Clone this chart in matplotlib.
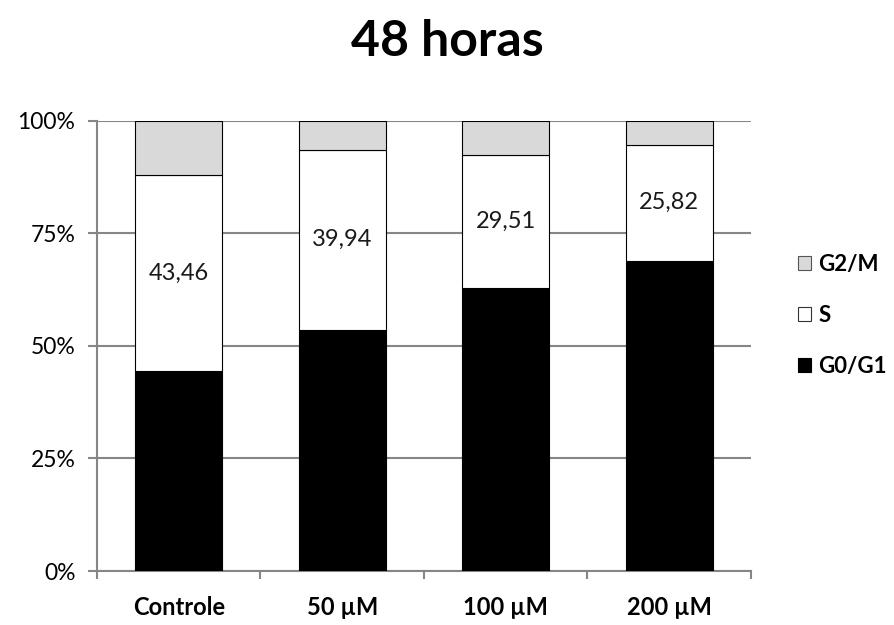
import numpy as np
import matplotlib
matplotlib.use("Agg")
import matplotlib.pyplot as plt
from matplotlib.patches import Patch

# cell cycle phase fractions (%) after 48 h
categorias = ["Controle", "50 µM", "100 µM", "200 µM"]
g0_g1 = [44.42, 53.60, 62.80, 68.85]
fase_s = [43.46, 39.94, 29.51, 25.82]
g2_m = [12.12, 6.46, 7.69, 5.33]
rotulos_s = ["43,46", "39,94", "29,51", "25,82"]

plt.rcParams["font.family"] = ["Lato", "DejaVu Sans"]

grid_cor = "#868686"

fig = plt.figure(figsize=(8.94, 6.25), dpi=100)
ax = fig.add_axes([0.1085, 0.0864, 0.7315, 0.7205])

x = np.arange(len(categorias))
largura = 0.53

g0 = np.array(g0_g1)
s = np.array(fase_s)
g2 = np.array(g2_m)

ax.bar(x, g0, largura, color="black", edgecolor="black", linewidth=0.8, zorder=3)
ax.bar(x, s, largura, bottom=g0, color="white", edgecolor="black", linewidth=0.8, zorder=3)
ax.bar(x, g2, largura, bottom=g0 + s, color="#d9d9d9", edgecolor="black", linewidth=0.8, zorder=3)

# S-phase values written in the middle of each segment
for xi, base, val, txt in zip(x, g0, s, rotulos_s):
    ax.text(xi, base + val / 2, txt, ha="center", va="center", fontsize=17,
            color="#1a1a1a", zorder=4)

ax.set_xlim(-0.5, len(categorias) - 0.5)
ax.set_ylim(0, 100)
ax.set_yticks([0, 25, 50, 75, 100])
ax.set_yticklabels(["0%", "25%", "50%", "75%", "100%"], fontsize=16.5)
ax.yaxis.grid(True, color=grid_cor, linewidth=1.5)
ax.set_axisbelow(True)

ax.set_xticks(x)
ax.set_xticklabels(categorias, fontsize=17, fontweight="bold")
ax.set_xticks(np.arange(-0.5, len(categorias)), minor=True)
ax.tick_params(axis="x", which="major", length=0, pad=18)
ax.tick_params(axis="x", which="minor", length=6, width=1.5, color=grid_cor)
ax.tick_params(axis="y", length=6.5, width=1.5, color=grid_cor, pad=9)

for lado in ["top", "right"]:
    ax.spines[lado].set_visible(False)
for lado in ["left", "bottom"]:
    ax.spines[lado].set_color(grid_cor)
    ax.spines[lado].set_linewidth(1.5)

fig.suptitle("48 horas", fontsize=36, fontweight="bold", y=0.97)

handles = [
    Patch(facecolor="#d9d9d9", edgecolor="#555555", linewidth=0.8, label="G2/M"),
    Patch(facecolor="white", edgecolor="#333333", linewidth=0.8, label="S"),
    Patch(facecolor="black", edgecolor="black", linewidth=0.8, label="G0/G1"),
]
leg = ax.legend(handles=handles, loc="center left", bbox_to_anchor=(1.072, 0.568),
                frameon=False, handlelength=0.6, handleheight=0.6,
                handletextpad=0.3, labelspacing=1.35, borderaxespad=0, borderpad=0,
                prop={"size": 16, "weight": "bold"})

fig.savefig("out.png", dpi=100)
